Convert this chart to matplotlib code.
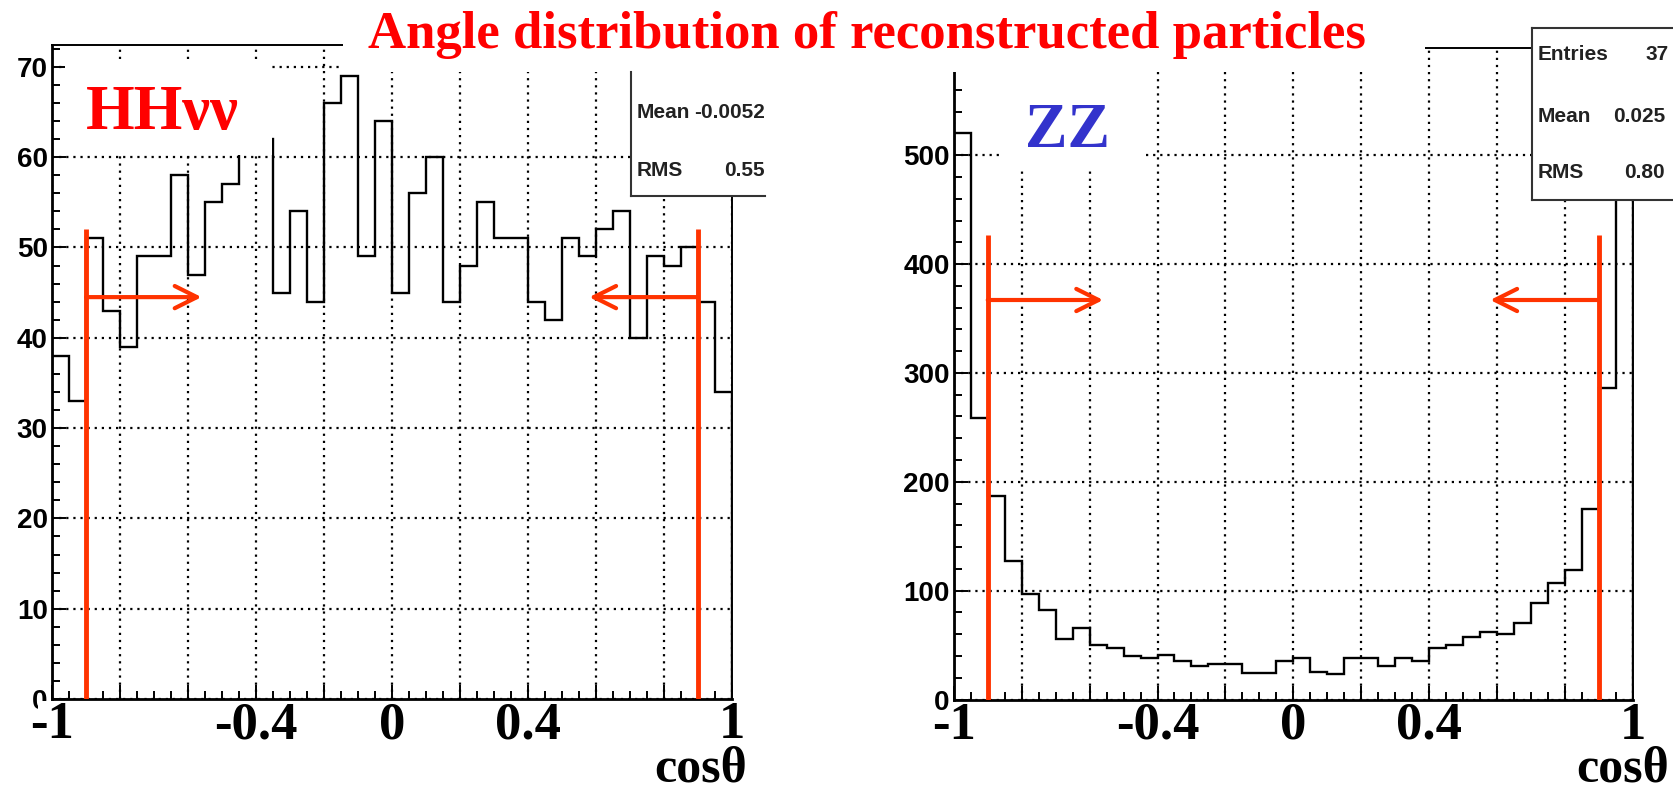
import numpy as np
import matplotlib
matplotlib.use("Agg")
import matplotlib.pyplot as plt
from matplotlib.patches import Rectangle
from matplotlib.lines import Line2D
from matplotlib.ticker import MultipleLocator

# ---------------- data ----------------
bin_range = (-1.0, 1.0)
n_bins = 40
hh_counts = [38, 33, 51, 43, 39, 49, 49, 58, 47, 55, 57, 61, 62, 45, 54, 44, 66, 69, 49, 64,
             45, 56, 60, 44, 48, 55, 51, 51, 44, 42, 51, 49, 52, 54, 40, 49, 48, 50, 44, 34]
zz_counts = [520, 259, 187, 127, 97, 82, 56, 66, 50, 47, 40, 38, 41, 35, 31, 33, 33, 24, 24, 35,
             38, 25, 23, 38, 38, 31, 38, 35, 47, 50, 57, 62, 60, 70, 89, 107, 119, 175, 286, 570]

x_major = [-1.0, -0.8, -0.6, -0.4, -0.2, 0.0, 0.2, 0.4, 0.6, 0.8, 1.0]
x_labels = ["-1", "", "", "-0.4", "", "0", "", "0.4", "", "", "1"]
hh_yticks = [0, 10, 20, 30, 40, 50, 60, 70]
zz_yticks = [0, 100, 200, 300, 400, 500]

hh_stats = [("Mean", "-0.0052"), ("RMS", "0.55")]
zz_stats = [("Entries", "37"), ("Mean", "0.025"), ("RMS", "0.80")]

cuts = [-0.9, 0.9]
arrow_tips = [-0.56, 0.58]
hh_cut_top, hh_arrow_y = 52, 44.5
zz_cut_top, zz_arrow_y = 427, 367

title = "Angle distribution of reconstructed particles"
hh_name = "HH\u03bd\u03bd"
zz_name = "ZZ"
x_title = "cos\u03b8"

RED = "#FF0000"
CUT_RED = "#FF3300"
BLUE = "#3333CC"
SERIF = ["Liberation Serif", "DejaVu Serif"]
SANS = ["Liberation Sans", "DejaVu Sans"]

# ---------------- layout helpers (pixels, top-origin) ----------------
W, H = 1673, 792
fig = plt.figure(figsize=(W / 100, H / 100), dpi=100)
fig.patch.set_facecolor("white")


def fx(px):
    return px / W


def fy(py):
    return 1 - py / H


def px_rect(x0, y0, x1, y1, **kw):
    return Rectangle((fx(x0), fy(y1)), (x1 - x0) / W, (y1 - y0) / H,
                     transform=fig.transFigure, **kw)


def px_line(x0, y0, x1, y1, **kw):
    return Line2D([fx(x0), fx(x1)], [fy(y0), fy(y1)], transform=fig.transFigure, **kw)


edges = np.linspace(bin_range[0], bin_range[1], n_bins + 1)


def make_panel(rect_px, counts, yticks, ystep, strip_px, xlabel_x):
    x0, y0, x1, y1 = rect_px
    ax = fig.add_axes([fx(x0), fy(y1), (x1 - x0) / W, (y1 - y0) / H])
    ax.set_xlim(*bin_range)
    ax.set_ylim(0, 1.05 * max(counts))
    ax.stairs(counts, edges, color="black", lw=1.7, zorder=2, baseline=0)

    ax.set_xticks(x_major)
    ax.set_xticklabels(x_labels)
    ax.xaxis.set_minor_locator(MultipleLocator(0.05))
    ax.set_yticks(yticks)
    ax.yaxis.set_minor_locator(MultipleLocator(ystep / 5))
    ax.tick_params(which="both", direction="in", top=False, right=False, width=1.4)
    ax.tick_params(which="major", length=10)
    ax.tick_params(which="minor", length=6)
    ax.tick_params(axis="x", which="major", pad=1.5)
    ax.tick_params(axis="y", which="major", pad=3)
    for lab in ax.get_xticklabels():
        lab.set_fontfamily(SERIF)
        lab.set_fontweight("bold")
        lab.set_fontsize(38)
    for lab in ax.get_yticklabels():
        lab.set_fontfamily(SANS)
        lab.set_fontweight("bold")
        lab.set_fontsize(20)

    ax.grid(True, which="major", color="black", linestyle=(0, (1, 2.2)), lw=1.6)
    for side in ["left", "bottom"]:
        ax.spines[side].set_linewidth(2.0)
    for side in ["top", "right"]:
        ax.spines[side].set_linewidth(1.4)

    ax.set_xlabel(x_title, fontsize=36, fontfamily=SERIF, fontweight="bold")
    ax.xaxis.label.set_ha("right")
    ax.xaxis.label.set_va("baseline")
    ax.xaxis.set_label_coords(xlabel_x, -(781 - y1) / (y1 - y0))

    # white strip below axis (hides lower part of the "0" y label), drawn between y and x axis
    ax.yaxis.set_zorder(0.5)
    ax.xaxis.set_zorder(0.7)
    sx0, sx1 = strip_px
    strip = px_rect(sx0, y1 + 2, sx1, H + 5, facecolor="white", edgecolor="none",
                    zorder=0.6, clip_on=False)
    ax.add_artist(strip)
    return ax


axL = make_panel((52, 44.7, 732, 699), hh_counts, hh_yticks, 10, (38, 765), 1.022)
axR = make_panel((953.8, 48, 1632.8, 699.5), zz_counts, zz_yticks, 100, (935, H), 1.054)


def cut_marks(ax, top, ay):
    for c, tip in zip(cuts, arrow_tips):
        ax.plot([c, c], [0, top], color=CUT_RED, lw=3.5, solid_capstyle="butt", zorder=3)
        ax.annotate("", xy=(tip, ay), xytext=(c, ay),
                    arrowprops=dict(arrowstyle="->,head_length=0.8,head_width=0.4",
                                    color=CUT_RED, lw=3, mutation_scale=20,
                                    shrinkA=0, shrinkB=0), zorder=3)


cut_marks(axL, hh_cut_top, hh_arrow_y)
cut_marks(axR, zz_cut_top, zz_arrow_y)

# ---------------- overlay boxes ----------------
fig.add_artist(px_rect(343, -5, 1425, 72, facecolor="white", edgecolor="none", zorder=1))
fig.add_artist(px_rect(65, 63, 272, 155, facecolor="white", edgecolor="none", zorder=1))
fig.add_artist(px_rect(1003, 60, 1142, 170, facecolor="white", edgecolor="none", zorder=1))

# left stats box
fig.add_artist(px_rect(631, 60, 765, 196, facecolor="white", edgecolor="none", zorder=1.2))
fig.add_artist(px_line(631, 72, 631, 196, color="#333333", lw=1.5, zorder=2))
fig.add_artist(px_line(631, 196, 765, 196, color="#333333", lw=1.5, zorder=2))
for (name, val), yy in zip(hh_stats, [113, 170]):
    fig.text(fx(637), fy(yy), name, ha="left", va="center", fontsize=15,
             fontfamily=SANS, fontweight="bold", color="#222222", zorder=3)
    fig.text(fx(765), fy(yy), val, ha="right", va="center", fontsize=15,
             fontfamily=SANS, fontweight="bold", color="#222222", zorder=3)

# right stats box
fig.add_artist(px_rect(1532, 28, W + 5, 200, facecolor="white", edgecolor="none", zorder=1.2))
fig.add_artist(px_line(1532, 28, W, 28, color="#333333", lw=1.5, zorder=2))
fig.add_artist(px_line(1532, 28, 1532, 200, color="#333333", lw=1.5, zorder=2))
fig.add_artist(px_line(1532, 200, W, 200, color="#333333", lw=1.5, zorder=2))
for (name, val), yy in zip(zz_stats, [55, 117, 173]):
    fig.text(fx(1538), fy(yy), name, ha="left", va="center", fontsize=15,
             fontfamily=SANS, fontweight="bold", color="#222222", zorder=3)
    if name == "Entries":
        fig.text(fx(1646), fy(yy), val, ha="left", va="center", fontsize=15,
                 fontfamily=SANS, fontweight="bold", color="#222222", zorder=3)
    else:
        fig.text(fx(1665), fy(yy), val, ha="right", va="center", fontsize=15,
                 fontfamily=SANS, fontweight="bold", color="#222222", zorder=3)

# ---------------- texts ----------------
fig.text(fx(867), fy(48), title, ha="center", va="baseline", fontsize=38,
         fontfamily=SERIF, fontweight="bold", color=RED, zorder=4)
fig.text(fx(86), fy(129), hh_name, ha="left", va="baseline", fontsize=45,
         fontfamily=SERIF, fontweight="bold", color=RED, zorder=4)
fig.text(fx(1025), fy(147), zz_name, ha="left", va="baseline", fontsize=46,
         fontfamily=SERIF, fontweight="bold", color=BLUE, zorder=4)

fig.savefig("out.png", dpi=100, facecolor="white")
